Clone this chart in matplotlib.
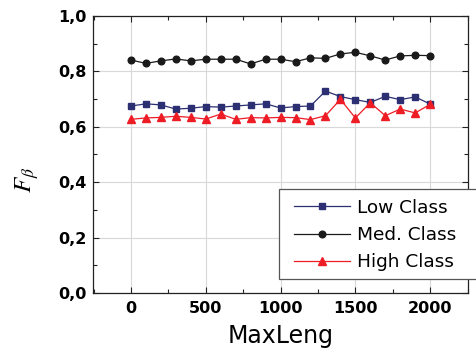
import matplotlib
matplotlib.use("Agg")
import matplotlib.pyplot as plt
from matplotlib.patches import Rectangle
from matplotlib.ticker import MultipleLocator, FuncFormatter

x = [0, 100, 200, 300, 400, 500, 600, 700, 800, 900, 1000,
     1100, 1200, 1300, 1400, 1500, 1600, 1700, 1800, 1900, 2000]
low = [0.675, 0.683, 0.679, 0.664, 0.667, 0.673, 0.671, 0.675, 0.679, 0.683, 0.668,
       0.673, 0.675, 0.729, 0.709, 0.698, 0.688, 0.710, 0.698, 0.708, 0.682]
med = [0.841, 0.829, 0.838, 0.845, 0.838, 0.844, 0.844, 0.844, 0.827, 0.844, 0.844,
       0.835, 0.849, 0.847, 0.863, 0.869, 0.856, 0.841, 0.856, 0.858, 0.857]
high = [0.627, 0.632, 0.634, 0.638, 0.634, 0.628, 0.646, 0.627, 0.633, 0.632, 0.634,
        0.633, 0.626, 0.640, 0.699, 0.632, 0.687, 0.640, 0.664, 0.650, 0.681]
labels = ["Low Class", "Med. Class", "High Class"]

plt.rcParams['font.family'] = ['DejaVu Sans']

W, H = 476, 351
fig = plt.figure(figsize=(W/100, H/100), dpi=100)
ax = fig.add_axes([93/W, 1-293/H, (468-93)/W, (293-16)/H])

l1, = ax.plot(x, low, '-s', color='#2c2f72', lw=0.9, ms=4.5, label=labels[0])
l2, = ax.plot(x, med, '-o', color='#1a1a1a', lw=0.9, ms=4.8, label=labels[1], zorder=3)
l3, = ax.plot(x, high, '-^', color='#ee1c25', lw=0.9, ms=5.5, label=labels[2])

ax.set_xlim(-254, 2253)
ax.set_ylim(0, 1.0)
ax.xaxis.set_major_locator(MultipleLocator(500))
ax.xaxis.set_minor_locator(MultipleLocator(250))
ax.yaxis.set_major_locator(MultipleLocator(0.2))
ax.yaxis.set_minor_locator(MultipleLocator(0.1))
ax.yaxis.set_major_formatter(FuncFormatter(lambda v, p: f"{v:.1f}".replace('.', ',')))
ax.tick_params(which='both', direction='in', top=True, right=True, width=0.8, color='#222222')
ax.tick_params(which='major', length=4)
ax.tick_params(which='minor', length=3)
ax.tick_params(axis='both', labelsize=11.5)
ax.tick_params(axis='x', pad=5.5)
ax.tick_params(axis='y', pad=4.5)
for lbl in ax.get_xticklabels() + ax.get_yticklabels():
    lbl.set_fontweight('bold')
ax.grid(True, which='major', color='#d8d8d8', lw=0.8)
ax.set_axisbelow(True)
for s in ax.spines.values():
    s.set_linewidth(0.9)
    s.set_color('#222222')

ax.set_xlabel("MaxLeng", fontsize=17, labelpad=6.3)
fig.text(27/W, 1-180/H, r"$F_{\beta}$", rotation=90, fontsize=18,
         ha='center', va='center', math_fontfamily='stix')

# legend frame (extends past the right edge like the reference)
fig.patches.append(Rectangle((279/W, 1-279/H), (520-279)/W, (279-188.5)/H,
                             transform=fig.transFigure, facecolor='white',
                             edgecolor='#555555', lw=0.9, zorder=5, clip_on=False))
leg = fig.legend(handles=[l1, l2, l3], labels=labels, loc='center left',
                 bbox_to_anchor=(294/W, 1-235/H), bbox_transform=fig.transFigure,
                 borderaxespad=0, borderpad=0, frameon=False, fontsize=13.3,
                 handlelength=3.03, handletextpad=0.38, labelspacing=0.5)
leg.set_zorder(6)

fig.savefig("out.png", dpi=100)
